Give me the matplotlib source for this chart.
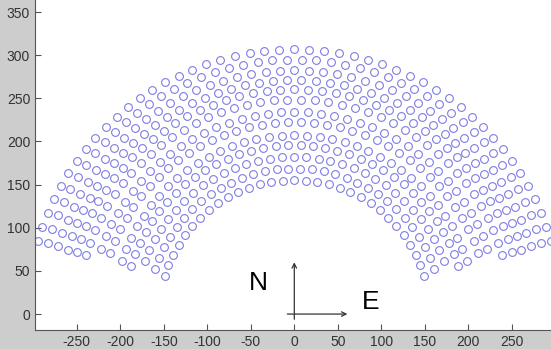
import numpy as np
import matplotlib
matplotlib.use('Agg')
import matplotlib.pyplot as plt

plt.rcParams['font.family'] = ['Liberation Sans', 'DejaVu Sans']
plt.rcParams['axes.unicode_minus'] = False

# heliostat rings: radius (m), number of mirrors, angular step (deg)
ring_radius = [155.3, 168.8, 182.3, 195.8, 207.4, 222.8, 234.4,
               248.7, 260.3, 271.1, 282.7, 295.1, 306.7]
ring_count = [31, 32, 33, 36, 37, 38, 39, 42, 43, 44, 45, 46, 47]
ring_step_deg = [4.907, 4.633, 4.397, 4.196, 4.044, 3.865, 3.747,
                 3.617, 3.522, 3.441, 3.360, 3.279, 3.213]

xticks = [-250, -200, -150, -100, -50, 0, 50, 100, 150, 200, 250]
yticks = [0, 50, 100, 150, 200, 250, 300, 350]

xs, ys = [], []
for r, n, step in zip(ring_radius, ring_count, ring_step_deg):
    th = np.deg2rad(90 + (np.arange(n) - (n - 1) / 2) * step)
    xs.append(r * np.cos(th))
    ys.append(r * np.sin(th))
xs = np.concatenate(xs)
ys = np.concatenate(ys)

fig = plt.figure(figsize=(5.51, 3.49), dpi=100, facecolor='#cdcdcd')
ax = fig.add_axes([0.0635, 0.0544, 1 - 0.0635, 1 - 0.0544])
ax.set_facecolor('white')

ax.plot(xs, ys, 'o', ms=5.6, mfc='none', mec='#7070e0', mew=0.8, alpha=0.9)

# compass
ax.annotate('', xy=(0, 60), xytext=(0, -6),
            arrowprops=dict(arrowstyle='->', color='#333333', lw=0.9,
                            shrinkA=0, shrinkB=0, mutation_scale=8))
ax.annotate('', xy=(61, 0), xytext=(-8, 0),
            arrowprops=dict(arrowstyle='->', color='#333333', lw=0.9,
                            shrinkA=0, shrinkB=0, mutation_scale=8))
ax.text(-41.5, 36, 'N', fontsize=19, ha='center', va='center')
ax.text(88, 14, 'E', fontsize=19, ha='center', va='center')

ax.set_xlim(-298, 295)
ax.set_ylim(-18.5, 364)
ax.set_xticks(xticks)
ax.set_yticks(yticks)
ax.tick_params(direction='in', length=4, width=0.8, colors='#555555',
               labelcolor='#333333', labelsize=10)
for s in ['top', 'right']:
    ax.spines[s].set_visible(False)
for s in ['left', 'bottom']:
    ax.spines[s].set_color('#555555')
    ax.spines[s].set_linewidth(0.8)

plt.savefig('out.png', dpi=100, facecolor=fig.get_facecolor())
